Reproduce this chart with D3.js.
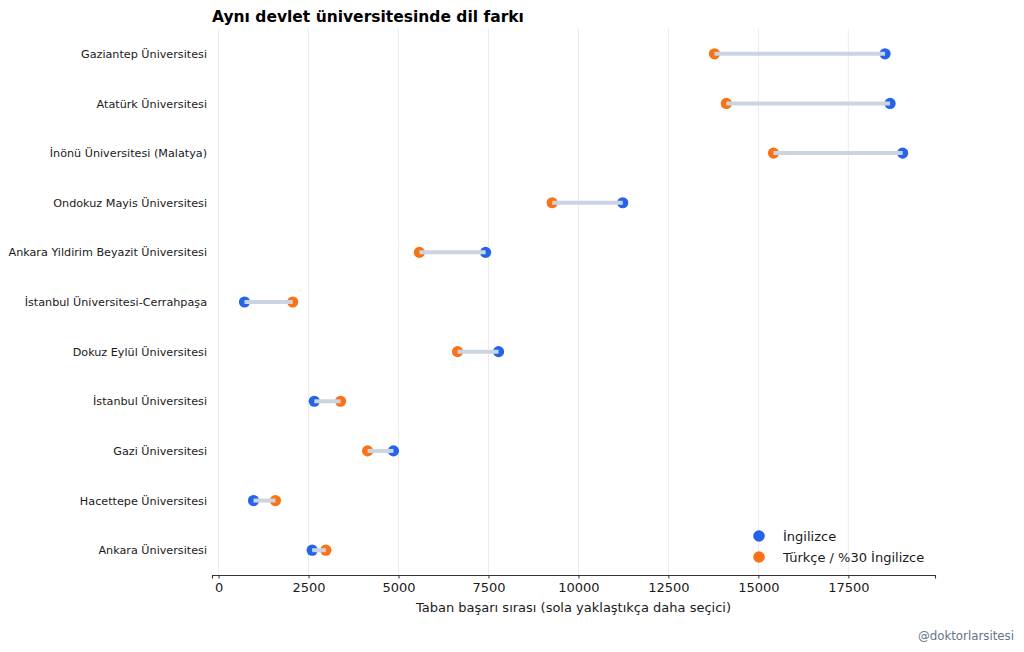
<!DOCTYPE html>
<html>
<head>
<meta charset="utf-8">
<script src="https://cdn.jsdelivr.net/npm/d3@7"></script>
<style>
  html, body { margin: 0; padding: 0; background: #fff; }
  svg { display: block; font-family: "DejaVu Sans", sans-serif; }
</style>
</head>
<body>
<div id="chart"></div>
<script>
// universities, top to bottom
const universities = [
    "Gazi\u0307antep Üni\u0307versi\u0307tesi\u0307",
    "Atatürk Üni\u0307versi\u0307tesi\u0307",
    "İnönü Üni\u0307versi\u0307tesi\u0307 (Malatya)",
    "Ondokuz Mayis Üni\u0307versi\u0307tesi\u0307",
    "Ankara Yildirim Beyazit Üni\u0307versi\u0307tesi\u0307",
    "İstanbul Üni\u0307versi\u0307tesi\u0307-Cerrahpaşa",
    "Dokuz Eylül Üni\u0307versi\u0307tesi\u0307",
    "İstanbul Üni\u0307versi\u0307tesi\u0307",
    "Gazi\u0307 Üni\u0307versi\u0307tesi\u0307",
    "Hacettepe Üni\u0307versi\u0307tesi\u0307",
    "Ankara Üni\u0307versi\u0307tesi\u0307"
];

// base ranks
const ingilizce = [18520, 18660, 19010, 11230, 7420, 720, 7780, 2660, 4860, 970, 2600];
const turkce    = [13780, 14110, 15420, 9270, 5580, 2060, 6640, 3390, 4140, 1580, 2980];

const xTicks = [0, 2500, 5000, 7500, 10000, 12500, 15000, 17500];

const seriesNames = ["İngilizce", "Türkçe / %30 İngilizce"];
const seriesColors = ["#2563eb", "#f97316"];

const width = 1024, height = 652;
const margin = {top: 29, right: 89, bottom: 77, left: 212};
const innerW = width - margin.left - margin.right;
const innerH = height - margin.top - margin.bottom;

const data = universities.map((u, i) => ({
    name: u,
    idx: i,
    eng: ingilizce[i],
    tr: turkce[i]
}));

const svg = d3.select("#chart")
    .append("svg")
    .attr("width", width)
    .attr("height", height);

const g = svg.append("g")
    .attr("transform", `translate(${margin.left},${margin.top})`);

// scales
const x = d3.scaleLinear()
    .domain([-183, 19908])
    .range([0, innerW]);

const y = d3.scaleLinear()
    .domain([-0.5, universities.length - 0.5])
    .range([0, innerH]);

// grid
g.selectAll(".grid")
    .data(xTicks)
    .join("line")
    .attr("class", "grid")
    .attr("x1", d => x(d))
    .attr("x2", d => x(d))
    .attr("y1", 0)
    .attr("y2", innerH)
    .attr("stroke", "#ebebeb")
    .attr("stroke-width", 1);

// x axis
const xAxis = d3.axisBottom(x)
    .tickValues(xTicks)
    .tickFormat(d3.format("d"))
    .tickSize(3.5)
    .tickPadding(4);

const xAxisG = g.append("g")
    .attr("transform", `translate(0,${innerH})`)
    .call(xAxis);

xAxisG.select(".domain").attr("stroke", "#333").attr("stroke-width", 1.1);
xAxisG.selectAll(".tick line").attr("stroke", "#333").attr("stroke-width", 1);
xAxisG.selectAll(".tick text")
    .attr("fill", "#1a1a1a")
    .style("font-size", "13px")
    .style("font-family", "DejaVu Sans");

// y labels
const yAxis = d3.axisLeft(y)
    .tickValues(data.map(d => d.idx))
    .tickFormat(i => universities[i])
    .tickSize(0)
    .tickPadding(5);

const yAxisG = g.append("g").call(yAxis);
yAxisG.select(".domain").remove();
yAxisG.selectAll(".tick text")
    .attr("fill", "#1a1a1a")
    .style("font-size", "11.2px")
    .style("font-family", "DejaVu Sans");

// dots
g.selectAll(".dot-eng")
    .data(data)
    .join("circle")
    .attr("class", "dot-eng")
    .attr("cx", d => x(d.eng))
    .attr("cy", d => y(d.idx))
    .attr("r", 5.6)
    .attr("fill", seriesColors[0]);

g.selectAll(".dot-tr")
    .data(data)
    .join("circle")
    .attr("class", "dot-tr")
    .attr("cx", d => x(d.tr))
    .attr("cy", d => y(d.idx))
    .attr("r", 5.6)
    .attr("fill", seriesColors[1]);

// connecting lines (drawn above dots, like the reference)
g.selectAll(".link")
    .data(data)
    .join("line")
    .attr("class", "link")
    .attr("x1", d => x(d.tr))
    .attr("x2", d => x(d.eng))
    .attr("y1", d => y(d.idx))
    .attr("y2", d => y(d.idx))
    .attr("stroke", "#cbd5e1")
    .attr("stroke-width", 4);

// title
svg.append("text")
    .attr("x", margin.left)
    .attr("y", 22)
    .attr("font-size", "15.5px")
    .attr("font-weight", "bold")
    .attr("fill", "#000")
    .text("Aynı devlet üniversitesinde dil farkı");

// x label
svg.append("text")
    .attr("x", margin.left + innerW / 2)
    .attr("y", 612)
    .attr("text-anchor", "middle")
    .attr("font-size", "13px")
    .attr("fill", "#1a1a1a")
    .text("Taban başarı sırası (sola yaklaştıkça daha seçici)");

// legend
const legend = svg.append("g")
    .attr("transform", "translate(759,536)");

const legendItem = legend.selectAll(".item")
    .data(seriesNames)
    .join("g")
    .attr("class", "item")
    .attr("transform", (d, i) => `translate(0,${i * 21})`);

legendItem.append("circle")
    .attr("r", 5.8)
    .attr("fill", (d, i) => seriesColors[i]);

legendItem.append("text")
    .attr("x", 24)
    .attr("y", 4.5)
    .attr("font-size", "13px")
    .attr("fill", "#1a1a1a")
    .text(d => d);

// watermark
svg.append("text")
    .attr("x", 1014)
    .attr("y", 640)
    .attr("text-anchor", "end")
    .attr("font-size", "11.8px")
    .attr("fill", "#64748b")
    .text("@doktorlarsitesi");
</script>
</body>
</html>
